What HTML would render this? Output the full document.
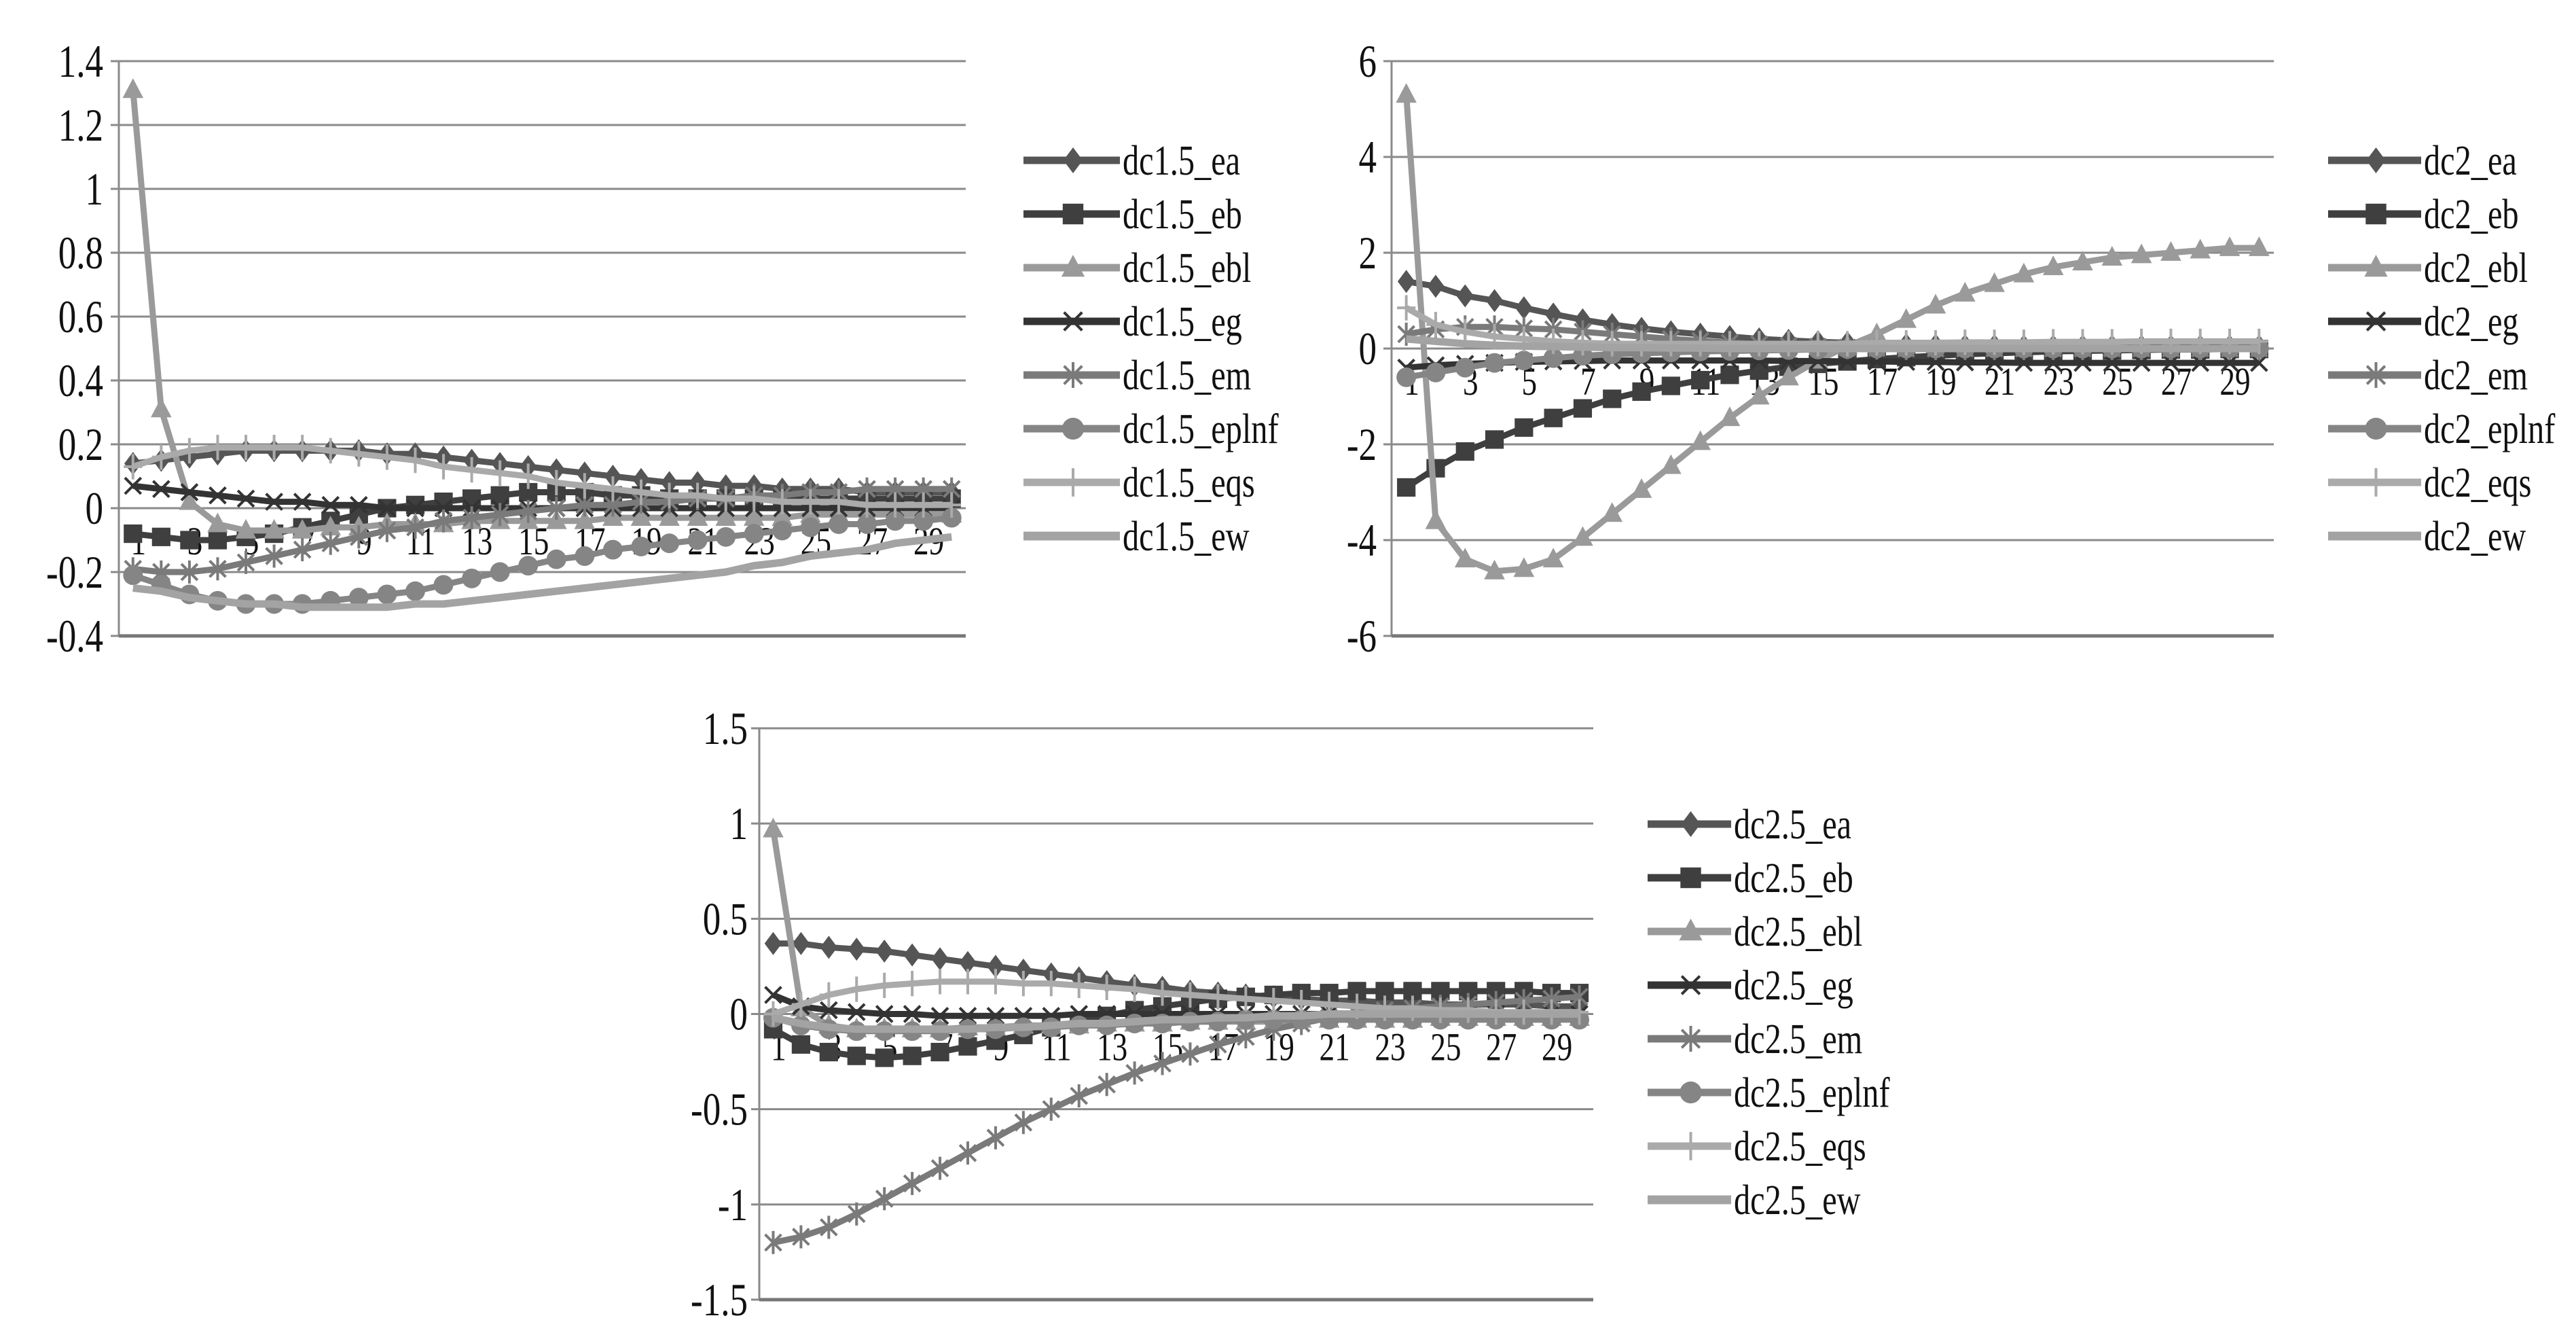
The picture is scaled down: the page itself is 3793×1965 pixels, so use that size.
<!DOCTYPE html>
<html><head><meta charset="utf-8"><style>
html,body{margin:0;padding:0;background:#fff;}
svg{display:block;font-family:"Liberation Serif",serif;}
</style></head><body>
<svg id="svg" width="3793" height="1965" viewBox="0 0 3793 1965"></svg>
<script>
const cats = Array.from({length:30},(_,i)=>i+1);
const seriesKeys = ["ea","eb","ebl","eg","em","eplnf","eqs","ew"];
// Chart 1 (dc1.5)
const c1_ea=[0.14,0.15,0.16,0.17,0.18,0.18,0.18,0.18,0.18,0.17,0.17,0.16,0.15,0.14,0.13,0.12,0.11,0.10,0.09,0.08,0.08,0.07,0.07,0.06,0.06,0.06,0.05,0.05,0.05,0.05];
const c1_eb=[-0.08,-0.09,-0.10,-0.10,-0.09,-0.08,-0.06,-0.04,-0.02,0,0.01,0.02,0.03,0.04,0.05,0.05,0.05,0.04,0.04,0.03,0.03,0.03,0.03,0.03,0.03,0.03,0.03,0.03,0.03,0.03];
const c1_ebl=[1.31,0.31,0.02,-0.05,-0.07,-0.07,-0.07,-0.06,-0.06,-0.05,-0.05,-0.05,-0.04,-0.04,-0.04,-0.04,-0.04,-0.03,-0.03,-0.03,-0.03,-0.03,-0.03,-0.03,-0.02,-0.02,-0.02,-0.02,-0.02,-0.02];
const c1_eg=[0.07,0.06,0.05,0.04,0.03,0.02,0.02,0.01,0.01,0,0,0,0,0,0,0,0,0,0,0,0,0,0,0,0,0,0,0,0,0];
const c1_em=[-0.19,-0.2,-0.2,-0.19,-0.17,-0.15,-0.13,-0.11,-0.09,-0.07,-0.06,-0.04,-0.03,-0.02,-0.01,0,0.01,0.01,0.02,0.02,0.03,0.03,0.04,0.04,0.05,0.05,0.06,0.06,0.06,0.06];
const c1_eplnf=[-0.21,-0.24,-0.27,-0.29,-0.3,-0.3,-0.3,-0.29,-0.28,-0.27,-0.26,-0.24,-0.22,-0.2,-0.18,-0.16,-0.15,-0.13,-0.12,-0.11,-0.1,-0.09,-0.08,-0.07,-0.06,-0.05,-0.05,-0.04,-0.04,-0.03];
const c1_eqs=[0.13,0.16,0.18,0.19,0.19,0.19,0.19,0.18,0.17,0.16,0.15,0.13,0.12,0.11,0.1,0.08,0.07,0.06,0.05,0.04,0.04,0.03,0.03,0.02,0.02,0.02,0.01,0.01,0.01,0.01];
const c1_ew=[-0.25,-0.26,-0.28,-0.29,-0.3,-0.3,-0.31,-0.31,-0.31,-0.31,-0.3,-0.3,-0.29,-0.28,-0.27,-0.26,-0.25,-0.24,-0.23,-0.22,-0.21,-0.2,-0.18,-0.17,-0.15,-0.14,-0.13,-0.11,-0.1,-0.09];
const c1_ticks=["-0.4","-0.2","0","0.2","0.4","0.6","0.8","1","1.2","1.4"];
// Chart 2 (dc2)
const c2_ea=[1.4,1.3,1.1,1.0,0.85,0.72,0.6,0.5,0.42,0.35,0.3,0.25,0.2,0.17,0.14,0.12,0.1,0.08,0.07,0.06,0.06,0.05,0.05,0.05,0.05,0.05,0.05,0.05,0.05,0.05];
const c2_eb=[-2.9,-2.5,-2.15,-1.9,-1.65,-1.45,-1.25,-1.05,-0.9,-0.78,-0.66,-0.55,-0.46,-0.38,-0.32,-0.27,-0.22,-0.18,-0.15,-0.12,-0.1,-0.08,-0.06,-0.05,-0.04,-0.03,-0.02,-0.02,-0.01,-0.01];
const c2_ebl=[5.3,-3.6,-4.4,-4.65,-4.6,-4.4,-3.95,-3.45,-2.95,-2.45,-1.95,-1.45,-1.0,-0.6,-0.25,0.05,0.3,0.6,0.9,1.15,1.35,1.55,1.7,1.8,1.9,1.95,2.0,2.05,2.1,2.1];
const c2_eg=[-0.4,-0.35,-0.32,-0.3,-0.28,-0.27,-0.26,-0.25,-0.25,-0.25,-0.25,-0.25,-0.25,-0.26,-0.26,-0.27,-0.27,-0.28,-0.28,-0.29,-0.29,-0.3,-0.3,-0.3,-0.3,-0.3,-0.3,-0.3,-0.3,-0.3];
const c2_em=[0.3,0.4,0.45,0.45,0.42,0.4,0.35,0.3,0.25,0.2,0.16,0.12,0.09,0.06,0.04,0.02,0.01,0,0,0,0,0,0,0,0,0,0,0,0,0];
const c2_eplnf=[-0.6,-0.5,-0.4,-0.3,-0.25,-0.2,-0.15,-0.12,-0.1,-0.08,-0.06,-0.05,-0.04,-0.03,-0.02,-0.01,0,0,0,0,0,0,0,0,0,0,0,0,0,0];
const c2_eqs=[0.85,0.5,0.35,0.25,0.2,0.15,0.12,0.1,0.1,0.1,0.1,0.1,0.1,0.1,0.1,0.1,0.12,0.12,0.12,0.13,0.13,0.13,0.14,0.14,0.14,0.15,0.15,0.15,0.15,0.15];
const c2_ew=[0.2,0.15,0.1,0.07,0.05,0.04,0.03,0.02,0.02,0.01,0.01,0,0,0,0,0,0,0,0,0,0,0,0,0,0,0,0,0,0,0];
const c2_ticks=["-6","-4","-2","0","2","4","6"];
// Chart 3 (dc2.5)
const c3_ea=[0.37,0.37,0.35,0.34,0.33,0.31,0.29,0.27,0.25,0.23,0.21,0.19,0.17,0.15,0.14,0.12,0.11,0.10,0.09,0.08,0.07,0.07,0.06,0.06,0.05,0.05,0.05,0.05,0.04,0.04];
const c3_eb=[-0.08,-0.16,-0.2,-0.22,-0.23,-0.22,-0.2,-0.17,-0.14,-0.11,-0.07,-0.04,-0.01,0.02,0.04,0.06,0.08,0.09,0.1,0.11,0.11,0.12,0.12,0.12,0.12,0.12,0.12,0.12,0.11,0.11];
const c3_ebl=[0.97,0.03,-0.06,-0.08,-0.08,-0.08,-0.08,-0.07,-0.07,-0.06,-0.06,-0.06,-0.05,-0.05,-0.05,-0.04,-0.04,-0.04,-0.04,-0.03,-0.03,-0.03,-0.03,-0.03,-0.02,-0.02,-0.02,-0.02,-0.02,-0.02];
const c3_eg=[0.1,0.04,0.02,0.01,0,0,-0.01,-0.01,-0.01,-0.01,-0.01,0,0,0,0,0,0,0,0,0,0,0,0,0,0,0,0,0,0,0];
const c3_em=[-1.2,-1.17,-1.12,-1.05,-0.97,-0.89,-0.81,-0.73,-0.65,-0.57,-0.5,-0.43,-0.37,-0.31,-0.26,-0.21,-0.16,-0.12,-0.08,-0.05,-0.02,0,0.02,0.03,0.04,0.05,0.06,0.07,0.08,0.09];
const c3_eplnf=[-0.02,-0.06,-0.08,-0.09,-0.09,-0.09,-0.09,-0.08,-0.08,-0.07,-0.07,-0.06,-0.06,-0.05,-0.05,-0.04,-0.04,-0.03,-0.03,-0.03,-0.03,-0.03,-0.03,-0.03,-0.03,-0.03,-0.03,-0.03,-0.03,-0.03];
const c3_eqs=[0,0.05,0.1,0.13,0.15,0.16,0.17,0.17,0.17,0.16,0.16,0.15,0.14,0.13,0.11,0.1,0.09,0.08,0.07,0.06,0.05,0.04,0.03,0.03,0.02,0.02,0.01,0.01,0.01,0.01];
const c3_ew=[-0.02,-0.05,-0.07,-0.08,-0.08,-0.08,-0.08,-0.08,-0.07,-0.07,-0.06,-0.05,-0.05,-0.04,-0.03,-0.03,-0.02,-0.02,-0.01,-0.01,0,0,0,0,0,0,0,0,0,0];
const c3_ticks=["-1.5","-1","-0.5","0","0.5","1","1.5"];

const NS="http://www.w3.org/2000/svg";
const svg=document.getElementById('svg');
const colors={ea:"#555",eb:"#3f3f3f",ebl:"#9a9a9a",eg:"#333",em:"#7a7a7a",eplnf:"#858585",eqs:"#aaa",ew:"#a3a3a3"};
function mk(tag,attrs,parent){const e=document.createElementNS(NS,tag);for(const k in attrs)e.setAttribute(k,attrs[k]);parent.appendChild(e);return e;}
function txt(parent,x,y,str,size,anchor){
  const t=mk('text',{transform:`translate(${x},${y}) scale(0.78,1)`,x:0,y:0,'text-anchor':anchor,'font-size':size,fill:"#111"},parent);
  t.textContent=str;return t;
}
function marker(g,key,x,y,s){
  const c=colors[key];
  if(key==="ea"){mk('polygon',{points:`${x},${y-s} ${x+s*0.75},${y} ${x},${y+s} ${x-s*0.75},${y}`,fill:c},g);}
  else if(key==="eb"){mk('rect',{x:x-s*0.8,y:y-s*0.8,width:s*1.6,height:s*1.6,fill:c},g);}
  else if(key==="ebl"){mk('polygon',{points:`${x},${y-s} ${x+s*0.9},${y+s*0.7} ${x-s*0.9},${y+s*0.7}`,fill:c},g);}
  else if(key==="eg"){mk('path',{d:`M${x-s*0.7},${y-s*0.7}L${x+s*0.7},${y+s*0.7}M${x+s*0.7},${y-s*0.7}L${x-s*0.7},${y+s*0.7}`,stroke:c,'stroke-width':4},g);}
  else if(key==="em"){mk('path',{d:`M${x-s*0.7},${y-s*0.7}L${x+s*0.7},${y+s*0.7}M${x+s*0.7},${y-s*0.7}L${x-s*0.7},${y+s*0.7}M${x},${y-s}L${x},${y+s}`,stroke:c,'stroke-width':4},g);}
  else if(key==="eplnf"){mk('circle',{cx:x,cy:y,r:s*0.85,fill:c},g);}
  else if(key==="eqs"){mk('path',{d:`M${x-s*0.8},${y}L${x+s*0.8},${y}M${x},${y-s*1.1}L${x},${y+s*1.1}`,stroke:c,'stroke-width':4},g);}
}
function chart(id,prefix,data,ticks,x0,x1,yTop,yBot,vmin,vmax,labelRight,legX,legTextX,legY0,xLabOff){
  const g=mk('g',{},svg);
  
  
  const ys=v=>yBot-(v-vmin)/(vmax-vmin)*(yBot-yTop);
  const bw=(x1-x0)/cats.length;
  const xs=i=>x0+bw*(i+0.5);
  ticks.forEach(t=>{
    const v=parseFloat(t),y=ys(v);
    const l=mk('line',{x1:x0-12,x2:x1,y1:y,y2:y,stroke:"#8a8a8a",'stroke-width':3},g);
    
    
    const tx=txt(g,labelRight,y+23,t,68,'end');
    
    
  });
  const ax=mk('line',{x1:x0,x2:x0,y1:yTop,y2:yBot,stroke:"#8a8a8a",'stroke-width':3},g);
  
  
  const bl=mk('line',{x1:x0,x2:x1,y1:yBot,y2:yBot,stroke:"#777",'stroke-width':5},g);
  
  
  const y0=ys(0);
  cats.forEach((c,i)=>{ if(c%2===1){
    const t=txt(g,xs(i)+8,y0+xLabOff,String(c),58,'middle');
    
    
  }});
  seriesKeys.forEach((k,si)=>{
    const vals=data[si];
    const sg=mk('g',{},g);
    
    
    const pts=vals.map((v,i)=>xs(i)+","+ys(v)).join(" ");
    mk('polyline',{points:pts,fill:'none',stroke:colors[k],'stroke-width':k==="ew"?11:9,'stroke-linejoin':'round'},sg);
    if(k!=="ew") vals.forEach((v,i)=>marker(sg,k,xs(i),ys(v),17));
    const ly=legY0+si*79;
    const lg=mk('g',{},g);
    
    
    mk('line',{x1:legX,x2:legTextX-4,y1:ly,y2:ly,stroke:colors[k],'stroke-width':k==="ew"?13:11},lg);
    if(k!=="ew") marker(lg,k,(legX+legTextX)/2,ly,19);
    const lt=txt(lg,legTextX,ly+21,prefix+"_"+k,62,'start');
  });
}
chart('chart-dc1-5','dc1.5',[c1_ea,c1_eb,c1_ebl,c1_eg,c1_em,c1_eplnf,c1_eqs,c1_ew],c1_ticks,175,1422,90,936,-0.4,1.4,152,1507,1653,236,68);
chart('chart-dc2','dc2',[c2_ea,c2_eb,c2_ebl,c2_eg,c2_em,c2_eplnf,c2_eqs,c2_ew],c2_ticks,2049,3348,90,936,-6,6,2027,3428,3569,236,68);
chart('chart-dc2-5','dc2.5',[c3_ea,c3_eb,c3_ebl,c3_eg,c3_em,c3_eplnf,c3_eqs,c3_ew],c3_ticks,1118,2346,1072,1913,-1.5,1.5,1101,2426,2553,1213,68);
</script>
</body></html>
